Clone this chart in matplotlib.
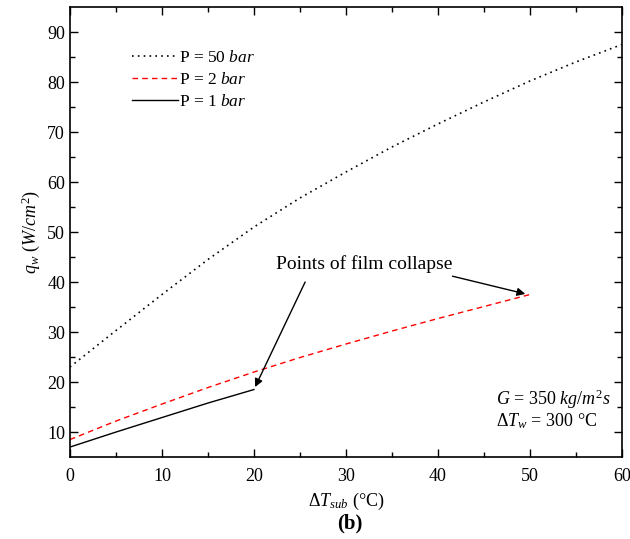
import numpy as np
import matplotlib.pyplot as plt

plt.rcParams['font.family'] = ['Liberation Serif', 'DejaVu Serif']
plt.rcParams['mathtext.fontset'] = 'custom'
plt.rcParams['mathtext.rm'] = 'Liberation Serif'
plt.rcParams['mathtext.it'] = 'Liberation Serif:italic'

# P = 50 bar
x50 = [0, 5, 10, 15, 20, 25, 30, 35, 40, 45, 50, 55, 60]
q50 = [23, 30.3, 37.5, 44.5, 51, 56.8, 62, 67, 71.6, 76, 80.2, 84, 87.5]
# P = 2 bar
x2 = [0, 5, 10, 15, 20, 25, 30, 35, 40, 45, 50]
q2 = [8.5, 12.2, 15.6, 18.9, 22, 24.9, 27.6, 30.2, 32.7, 35.1, 37.5]
# P = 1 bar
x1 = [0, 5, 10, 15, 20]
q1 = [7, 10, 12.9, 15.8, 18.5]

fig = plt.figure(figsize=(6.3, 5.39), dpi=100)
ax = fig.add_axes([0.111, 0.152, 0.876, 0.835])

ax.plot(x50, q50, color='black', linestyle=(0, (1, 2.5)), lw=1.2, label='P = 50 $\\mathit{bar}$')
ax.plot(x2, q2, color='red', linestyle=(0, (4, 3)), lw=1.0, label='P = 2 $\\mathit{bar}$')
ax.plot(x1, q1, color='black', linestyle='-', lw=1.0, label='P = 1 $\\mathit{bar}$')

ax.set_xlim(0, 60)
ax.set_ylim(5, 95)
ax.set_xticks(np.arange(0, 61, 10))
ax.set_xticks(np.arange(5, 60, 10), minor=True)
ax.set_yticks(np.arange(10, 91, 10))
ax.set_yticks(np.arange(15, 95, 10), minor=True)
ax.tick_params(which='both', direction='in', top=True, right=True, labelsize=13, width=1)
ax.tick_params(which='major', length=6)
ax.tick_params(which='minor', length=3.5)
ax.tick_params(axis='x', pad=8)
for s in ax.spines.values():
    s.set_linewidth(1.2)

ax.set_xlabel('$\\Delta \\mathit{T}_{\\mathit{sub}}$ (°C)', fontsize=13, labelpad=4)
ax.set_ylabel('$\\mathit{q}_{\\mathit{w}}$ ($\\mathit{W/cm}^{2}$)', fontsize=13, labelpad=4)

leg = ax.legend(loc='upper left', bbox_to_anchor=(0.085, 0.94), frameon=False, fontsize=12.5,
                handlelength=2.6, handletextpad=0.1, labelspacing=0.35)

ax.annotate('', xy=(20, 18.5), xytext=(25.7, 40.5),
            arrowprops=dict(arrowstyle='-|>', color='black', lw=1, mutation_scale=12))
ax.annotate('', xy=(49.8, 37.5), xytext=(41.3, 41.3),
            arrowprops=dict(arrowstyle='-|>', color='black', lw=1, mutation_scale=12))
ax.text(32, 43.5, 'Points of film collapse', fontsize=14, ha='center', va='center')

ax.text(46.3, 16.5, '$\\mathit{G}$ = 350 $\\mathit{kg/m}^{2}\\mathit{s}$', fontsize=13, ha='left', va='center')
ax.text(46.3, 12.2, '$\\Delta \\mathit{T}_{\\mathit{w}}$ = 300 °C', fontsize=13, ha='left', va='center')

fig.text(0.555, 0.028, '(b)', fontsize=15, fontweight='bold', ha='center', va='center')

fig.savefig('out.png', dpi=100)
